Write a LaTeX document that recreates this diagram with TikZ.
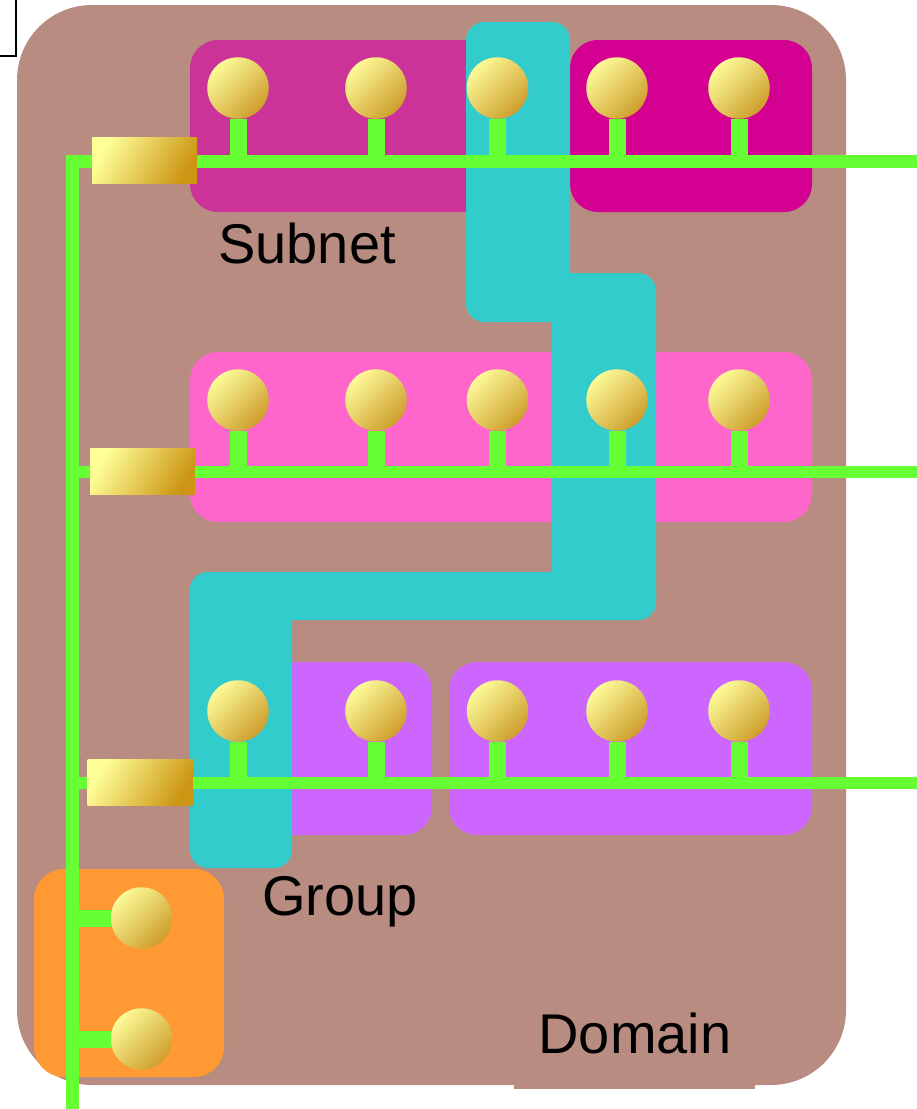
\documentclass[tikz,border=0pt]{standalone}
\usepackage{fontspec}
\setmainfont{Liberation Sans}
\definecolor{dombrown}{RGB}{184,140,128}
\definecolor{magA}{RGB}{204,51,153}
\definecolor{magB}{RGB}{212,0,145}
\definecolor{pinkC}{RGB}{255,102,204}
\definecolor{purpD}{RGB}{204,102,255}
\definecolor{orangeE}{RGB}{255,153,51}
\definecolor{cyanG}{RGB}{51,204,204}
\definecolor{greenL}{RGB}{102,255,51}
\definecolor{ballhi}{RGB}{252,250,152}
\definecolor{balllo}{RGB}{206,158,44}
\definecolor{routhi}{RGB}{255,255,153}
\definecolor{routlo}{RGB}{204,150,20}
\begin{document}
\begin{tikzpicture}[x=1pt,y=-1pt,
  subnetbox/.style={rounded corners=28pt},
  groupbox/.style={fill=cyanG,rounded corners=18pt},
  busline/.style={draw=greenL,line width=12.5pt},
  stemline/.style={draw=greenL,line width=17pt},
  ball/.style={circle,minimum size=61.5pt,inner sep=0pt,
    top color=ballhi,bottom color=balllo,shading angle=45},
  router/.style={rectangle,minimum width=105pt,minimum height=46pt,inner sep=0pt,
    top color=routhi,bottom color=routlo,shading angle=60},
  lbl/.style={font=\fontsize{56}{60}\selectfont,inner sep=0pt,anchor=base}
]
\useasboundingbox (0,0) rectangle (917,1109);
% stray fragment top-left
\draw[line width=2pt] (-20,-20) rectangle (16,56);
% domain
\fill[dombrown,rounded corners=75pt] (17,5) rectangle (846,1085);
\node[fill=dombrown,minimum width=241pt,minimum height=89pt,inner sep=0pt,anchor=south] (domlab) at (634.5,1089) {};
% subnets
\fill[magA,subnetbox] (190,40) rectangle (560,212);
\fill[magB,subnetbox] (570,40) rectangle (812,212);
\fill[pinkC,subnetbox] (190,352) rectangle (812,522);
\fill[purpD,subnetbox] (190,662) rectangle (432,835);
\fill[purpD,subnetbox] (449,662) rectangle (812,835);
\fill[orangeE,rounded corners=30pt] (34,869) rectangle (224,1077);
% group
\fill[groupbox] (466,22) rectangle (570,322);
\fill[groupbox] (552,273) rectangle (656,620);
\fill[groupbox] (190,572) rectangle (656,620);
\fill[groupbox] (190,572) rectangle (292,868);
% bus coordinates
\coordinate (busA) at (66,161.5);
\coordinate (busAR) at (917,161.5);
\coordinate (busB) at (66,472);
\coordinate (busBR) at (917,472);
\coordinate (busC) at (66,783);
\coordinate (busCR) at (917,783);
\coordinate (vtop) at (72.5,155);
\coordinate (vbot) at (72.5,1109);
\draw[busline] (busA) -- (busAR);
\draw[busline] (busB) -- (busBR);
\draw[busline] (busC) -- (busCR);
\draw[busline] (vtop) -- (vbot);
% balls
\foreach \r/\yy in {A/88,B/400,C/711}{
  \foreach \i/\xx in {1/238,2/376,3/497.5,4/617,5/739}{
    \node[ball] (h\r\i) at (\xx,\yy) {};
  }
}
\node[ball] (o1) at (141.5,918) {};
\node[ball] (o2) at (141.5,1039) {};
% stems (drawn behind balls)
\begin{scope}[on background layer/.try]
\end{scope}
\foreach \r in {A,B,C}{
  \foreach \i in {1,...,5}{
    \draw[stemline] (h\r\i.south) -- (h\r\i |- bus\r);
  }
}
\draw[stemline] (vtop |- o1) -- (o1.west);
\draw[stemline] (vtop |- o2) -- (o2.west);
% routers
\node[router] (rA) at (144.5,160) {};
\node[router] (rB) at (142.5,471) {};
\node[router] (rC) at (140,782) {};
% labels
\node[lbl] (subnetlbl) at (307,263) {Subnet};
\node[lbl] (grouplbl) at (340,915) {Group};
\node[lbl] (domaintxt) at (635,1053) {Domain};
\end{tikzpicture}
\end{document}
